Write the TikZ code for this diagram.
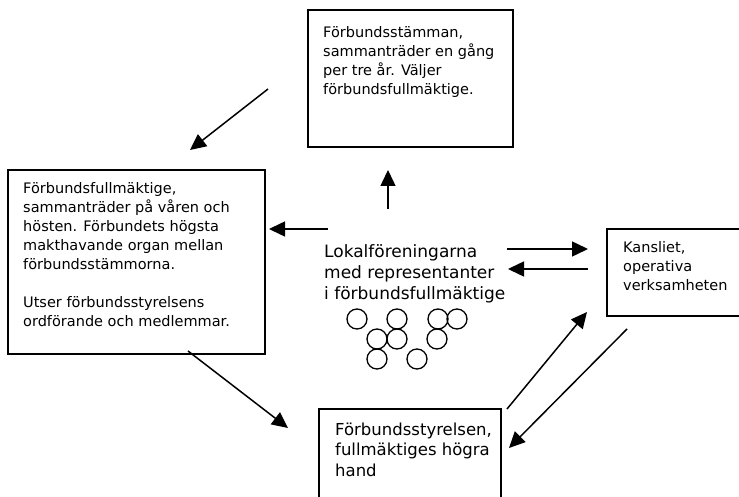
\documentclass[tikz,border=0pt]{standalone}
\usepackage{fontspec}
\setmainfont{DejaVu Sans}
\usetikzlibrary{arrows.meta,positioning}
\tikzset{
    block/.style = {draw, rectangle, line width=1.5pt, inner sep=0pt},
    boxtext/.style = {anchor=north west, align=left, inner sep=0pt,
        font=\fontsize{14.5}{19}\selectfont},
    bigtext/.style = {anchor=north west, align=left, inner sep=0pt,
        font=\fontsize{17}{21}\selectfont},
    arrow/.style = {draw, line width=1.5pt, -{Triangle[length=16pt,width=15pt]}},
    ring/.style = {draw, line width=1.3pt}
}
\begin{document}
\begin{tikzpicture}[x=1pt,y=-1pt]
    \clip (0,0) rectangle (739,497);
    % boxes
    \node[block, minimum width=205pt, minimum height=137pt] (stamma) at (410.5,78.5) {};
    \node[block, minimum width=257pt, minimum height=184pt] (fullm) at (136.5,262) {};
    \node[block, minimum width=140pt, minimum height=87pt] (kansli) at (677,272.5) {};
    \node[block, minimum width=182pt, minimum height=100pt] (styr) at (410,459) {};
    % texts
    \node[boxtext] (stammatext) at (323,26) {Förbundsstämman,\\sammanträder en gång\\per tre år. Väljer\\förbundsfullmäktige.};
    \node[boxtext] (fullmtext) at (23,182) {Förbundsfullmäktige,\\sammanträder på våren och\\hösten. Förbundets högsta\\makthavande organ mellan\\förbundsstämmorna.\\[19pt]Utser förbundsstyrelsens\\ordförande och medlemmar.};
    \node[boxtext] (kanslitext) at (623,241) {Kansliet,\\operativa\\verksamheten};
    \node[boxtext, font=\fontsize{16.5}{20.5}\selectfont] (styrtext) at (335,422.5) {Förbundsstyrelsen,\\fullmäktiges högra\\hand};
    \node[bigtext] (lokal) at (324,244) {Lokalföreningarna\\med representanter\\i förbundsfullmäktige};
    % members
    \foreach \cx/\cy in {357/319,397/319,438/319,457/319,377/339,397/339,437/339,377/359,417/359}
        \draw[ring] (\cx,\cy) circle (10pt);
    % arrow ends
    \coordinate (a1) at (268,89);   \coordinate (b1) at (190,150);
    \coordinate (a2) at (388,209);  \coordinate (b2) at (388,170);
    \coordinate (a3) at (328,229);  \coordinate (b3) at (269,229);
    \coordinate (a4) at (507,249);  \coordinate (b4) at (588,249);
    \coordinate (a5) at (588,269);  \coordinate (b5) at (508,269);
    \coordinate (a6) at (507,409);  \coordinate (b6) at (587,312);
    \coordinate (a7) at (627,329);  \coordinate (b7) at (509,448);
    \coordinate (a8) at (188,351);  \coordinate (b8) at (288,428);
    \foreach \i in {1,...,8}
        \draw[arrow] (a\i) -- (b\i);
\end{tikzpicture}
\end{document}
